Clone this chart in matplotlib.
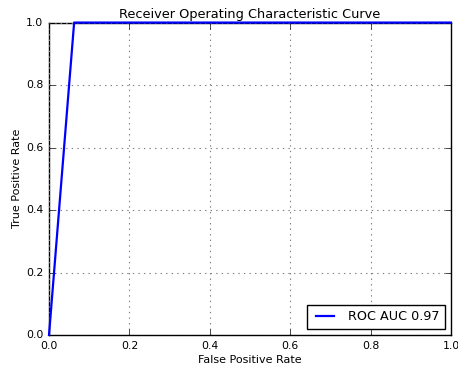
import matplotlib
matplotlib.use("Agg")
import matplotlib.pyplot as plt

# ROC curve points
fpr = [0.0, 0.0625, 1.0]
tpr = [0.0, 1.0, 1.0]
roc_auc = 0.97
ticks = [0.0, 0.2, 0.4, 0.6, 0.8, 1.0]

plt.style.use("classic")
plt.rcParams["font.family"] = ["DejaVu Sans"]

fig = plt.figure(figsize=(4.58, 3.68), dpi=100, facecolor="white")
ax = fig.add_axes([0.107, 0.0897, 0.8777, 0.849])
ax.plot(fpr, tpr, color="blue", linewidth=1.6, label="ROC AUC %0.2f" % roc_auc,
        clip_on=False, zorder=5)
ax.set_xlim(0, 1)
ax.set_ylim(0, 1)
ax.set_xticks(ticks)
ax.set_yticks(ticks)
ax.tick_params(labelsize=7.8, pad=4)
ax.grid(True, color="gray", linestyle=":", linewidth=0.8)
ax.set_title("Receiver Operating Characteristic Curve", fontsize=9.3, pad=3)
ax.set_xlabel("False Positive Rate", fontsize=8, labelpad=3)
ax.set_ylabel("True Positive Rate", fontsize=8, labelpad=3)
leg = ax.legend(loc="lower right", fontsize=9.2, borderaxespad=0.5)
fig.savefig("out.png", dpi=100, facecolor="white")
